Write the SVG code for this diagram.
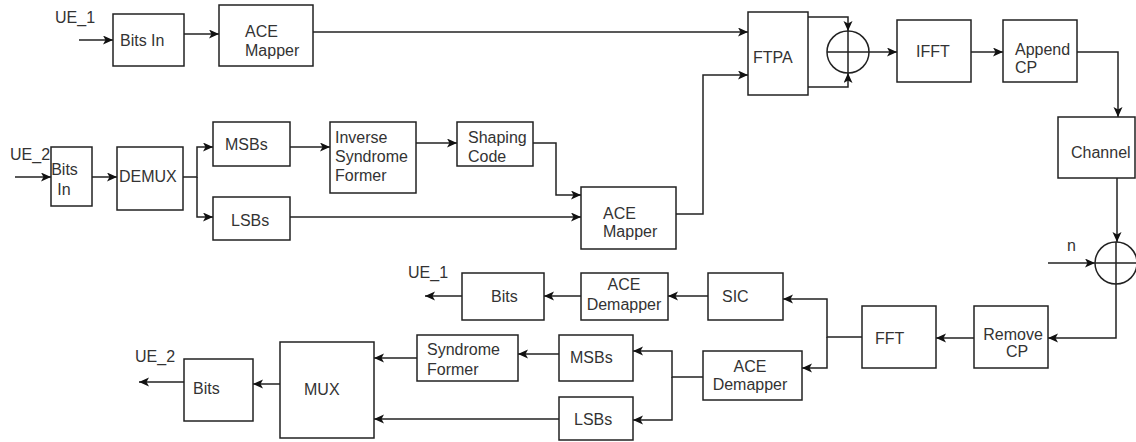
<svg xmlns="http://www.w3.org/2000/svg" width="1136" height="442" viewBox="0 0 1136 442">
<defs>
<style>
.box{fill:#fff;stroke:#222;stroke-width:1.5}
.ln{fill:none;stroke:#222;stroke-width:1.5}
.arr{marker-end:url(#ah)}
text{font-family:"Liberation Sans",Arial,sans-serif;font-size:16px;fill:#333}
.c{text-anchor:middle}
</style>
<marker id="ah" markerUnits="userSpaceOnUse" markerWidth="11" markerHeight="10" refX="10" refY="4.5" orient="auto">
<path d="M0,0 L10,4.5 L0,9 L2.5,4.5 z" fill="#111"/>
</marker>
</defs>
<rect width="1136" height="442" fill="#fff"/>

<g id="connectors">
<path class="ln arr" d="M79,40 H113"/>
<path class="ln arr" d="M184,34 H219"/>
<path class="ln arr" d="M313,32 H748"/>
<path class="ln arr" d="M676,214 H703 V75 H748"/>
<path class="ln arr" d="M808,17 H848 V31"/>
<path class="ln arr" d="M808,87 H848 V73"/>
<path class="ln arr" d="M869,52 H897"/>
<path class="ln arr" d="M971,52 H1003"/>
<path class="ln arr" d="M1077,52 H1118 V117"/>
<path class="ln arr" d="M1117,178 V242"/>
<path class="ln arr" d="M1048,263 H1095"/>
<path class="ln arr" d="M1116,284 V338 H1048"/>
<path class="ln arr" d="M974,338 H936"/>
<path class="ln arr" d="M862,337 H827 V299 H783"/>
<path class="ln arr" d="M827,337 V368 H802"/>
<path class="ln arr" d="M708,296 H668"/>
<path class="ln arr" d="M581,296 H544"/>
<path class="ln arr" d="M462,296 H425"/>
<path class="ln arr" d="M703,377 H672 V351 H633"/>
<path class="ln arr" d="M672,377 V420 H633"/>
<path class="ln arr" d="M559,354 H518"/>
<path class="ln arr" d="M417,358 H374"/>
<path class="ln arr" d="M559,419 H374"/>
<path class="ln arr" d="M280,384 H253"/>
<path class="ln arr" d="M184,382 H139"/>
<path class="ln arr" d="M15,177 H51"/>
<path class="ln arr" d="M92,177 H117"/>
<path class="ln arr" d="M183,177 H197 V147 H213"/>
<path class="ln arr" d="M197,177 V217 H213"/>
<path class="ln arr" d="M290,147 H330"/>
<path class="ln arr" d="M416,143 H457"/>
<path class="ln arr" d="M533,143 H556 V195 H581"/>
<path class="ln arr" d="M290,217 H581"/>
</g>

<g id="labels">
<text x="55" y="23">UE_1</text>
<text x="10" y="160">UE_2</text>
<text x="1067" y="251">n</text>
<text x="408" y="278">UE_1</text>
<text x="135" y="362">UE_2</text>
</g>

<g id="bitsin1"><rect class="box" x="113" y="14" width="71" height="52"/><text x="120" y="46">Bits In</text></g>
<g id="acemapper1"><rect class="box" x="219" y="5" width="94" height="61"/><text x="245" y="37">ACE</text><text x="245" y="56">Mapper</text></g>
<g id="ftpa"><rect class="box" x="748" y="12" width="60" height="83"/><text x="753" y="63">FTPA</text></g>
<g id="sum1"><circle class="box" cx="848" cy="52" r="21"/><path class="ln" d="M827,52 H869 M848,31 V73"/></g>
<g id="ifft"><rect class="box" x="897" y="20" width="74" height="62"/><text x="916" y="57">IFFT</text></g>
<g id="appendcp"><rect class="box" x="1003" y="20" width="74" height="62"/><text x="1015" y="55">Append</text><text x="1015" y="73">CP</text></g>
<g id="channel"><rect class="box" x="1058" y="117" width="77" height="61"/><text x="1071" y="158">Channel</text></g>
<g id="sum2"><circle class="box" cx="1116" cy="263" r="21"/><path class="ln" d="M1095,263 H1137 M1116,242 V284"/></g>
<g id="removecp"><rect class="box" x="974" y="306" width="74" height="62"/><text class="c" x="1013" y="340">Remove</text><text class="c" x="1017" y="357">CP</text></g>
<g id="fft"><rect class="box" x="862" y="306" width="74" height="62"/><text x="875" y="344">FFT</text></g>
<g id="sic"><rect class="box" x="708" y="273" width="75" height="47"/><text x="722" y="302">SIC</text></g>
<g id="acedemapper1"><rect class="box" x="581" y="273" width="87" height="47"/><text class="c" x="624" y="290">ACE</text><text class="c" x="624" y="310">Demapper</text></g>
<g id="bits1"><rect class="box" x="462" y="273" width="82" height="47"/><text x="491" y="302">Bits</text></g>
<g id="acedemapper2"><rect class="box" x="703" y="351" width="99" height="49"/><text class="c" x="750" y="372">ACE</text><text class="c" x="750" y="390">Demapper</text></g>
<g id="msbs2"><rect class="box" x="559" y="335" width="74" height="46"/><text x="570" y="363">MSBs</text></g>
<g id="lsbs2"><rect class="box" x="559" y="397" width="74" height="43"/><text x="574" y="425">LSBs</text></g>
<g id="syndromeformer"><rect class="box" x="417" y="335" width="101" height="46"/><text x="427" y="355">Syndrome</text><text x="427" y="375">Former</text></g>
<g id="mux"><rect class="box" x="280" y="342" width="94" height="96"/><text x="304" y="395">MUX</text></g>
<g id="bits2"><rect class="box" x="184" y="359" width="69" height="62"/><text x="193" y="394">Bits</text></g>
<g id="bitsin2"><rect class="box" x="51" y="147" width="41" height="59"/><text class="c" x="64.5" y="175">Bits</text><text class="c" x="64" y="195">In</text></g>
<g id="demux"><rect class="box" x="117" y="147" width="66" height="63"/><text x="119" y="182">DEMUX</text></g>
<g id="msbs1"><rect class="box" x="213" y="122" width="77" height="44"/><text x="225" y="150">MSBs</text></g>
<g id="lsbs1"><rect class="box" x="213" y="197" width="77" height="43"/><text x="231" y="226">LSBs</text></g>
<g id="inversesyndrome"><rect class="box" x="330" y="122" width="86" height="71"/><text x="335" y="143">Inverse</text><text x="335" y="162">Syndrome</text><text x="335" y="181">Former</text></g>
<g id="shapingcode"><rect class="box" x="457" y="122" width="76" height="44"/><text x="468" y="143">Shaping</text><text x="468" y="162">Code</text></g>
<g id="acemapper2"><rect class="box" x="581" y="187" width="95" height="62"/><text x="603" y="219">ACE</text><text x="603" y="237">Mapper</text></g>
</svg>
